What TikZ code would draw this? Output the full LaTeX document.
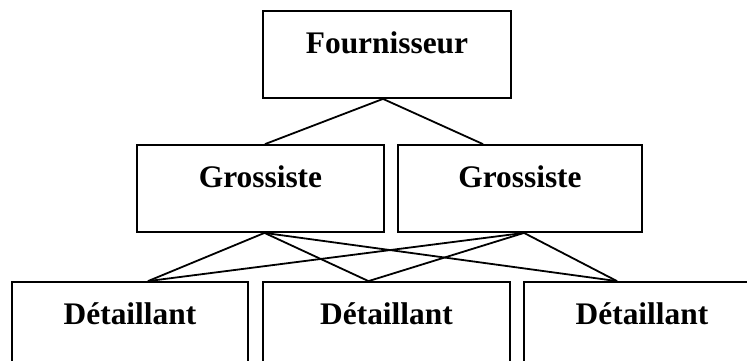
\documentclass[tikz,border=0pt]{standalone}
\usepackage{fontspec}
\setmainfont{Liberation Serif}
\usepackage{tikz}

\begin{document}
\begin{tikzpicture}[x=1pt, y=-1pt, line width=1.8pt,
    box/.style={draw, inner sep=0pt, minimum height=87pt, text height=22pt, text depth=25pt,
      font=\fontsize{31.4}{36}\selectfont\bfseries}]
      \useasboundingbox (0,0) rectangle (747,360);

      \node[box, minimum width=248pt] (F) at (387,54.5) {Fournisseur};
      \node[box, minimum width=247pt] (G1) at (260.5,188.5) {Grossiste};
      \node[box, minimum width=244pt] (G2) at (520,188.5) {Grossiste};
      \node[box, minimum width=236pt] (D1) at (130,325.5) {D\'etaillant};
      \node[box, minimum width=247pt] (D2) at (386.5,325.5) {D\'etaillant};
      \node[box, minimum width=236pt] (D3) at (642,325.5) {D\'etaillant};

      \draw ([xshift=-4pt]F.south) -- ([xshift=4.5pt]G1.north);
      \draw ([xshift=-4pt]F.south) -- ([xshift=-37pt]G2.north);
      \foreach \g in {G1,G2}
      {
        \draw ([xshift=4pt]\g.south) -- ([xshift=18pt]D1.north);
        \draw ([xshift=4pt]\g.south) -- ([xshift=-18pt]D2.north);
        \draw ([xshift=4pt]\g.south) -- ([xshift=-25pt]D3.north);
      }
    \end{tikzpicture}
\end{document}
